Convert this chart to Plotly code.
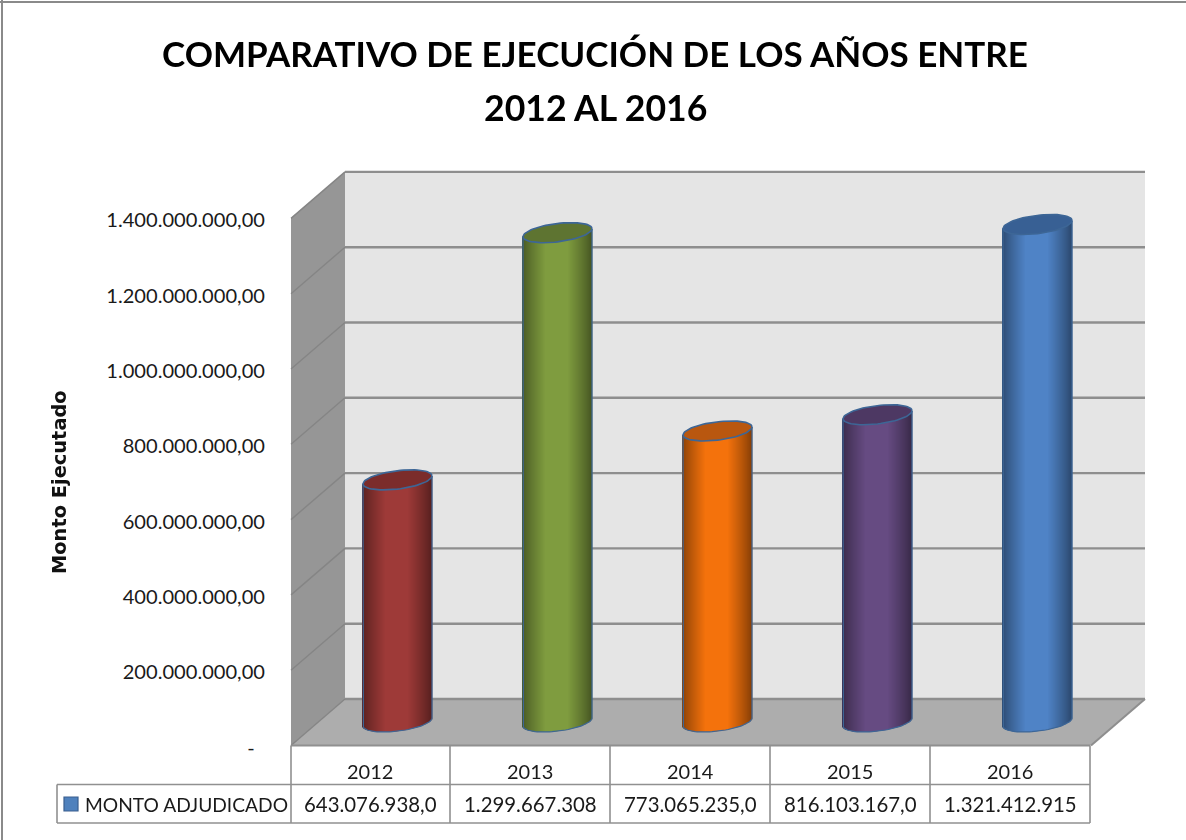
import math
import plotly.graph_objects as go

W, H = 1186, 840
FONT = "Lato"
TEXT = "#1a1a1a"

years = ["2012", "2013", "2014", "2015", "2016"]
values = [643076938.0, 1299667308, 773065235.0, 816103167.0, 1321412915]
table_labels = ["643.076.938,0", "1.299.667.308", "773.065.235,0", "816.103.167,0", "1.321.412.915"]
body_colors = ["#9e3a38", "#7f9c3f", "#f4720c", "#664b82", "#4f83c6"]
top_colors = ["#7b2c2b", "#5e7431", "#b9570f", "#4d3863", "#386094"]
tick_values = [0, 200e6, 400e6, 600e6, 800e6, 1000e6, 1200e6, 1400e6]
tick_labels = ["-\u00a0\u00a0", "200.000.000,00", "400.000.000,00", "600.000.000,00",
               "800.000.000,00", "1.000.000.000,00", "1.200.000.000,00", "1.400.000.000,00"]

# layout geometry in page pixels
PX_PER_UNIT = 75.3 / 200e6
CAT_W = 160
FIRST_CX = 397.5
BAR_ZERO = 722
FRONT_ZERO = 745.5
LABEL_ZERO = 747.5
BACK_ZERO = 699
FRONT_L, FRONT_R = 291, 1091
BACK_L, BACK_R = 345, 1145
A, B, TILT = 34.5, 9.2, 4.0

def X(px): return px / W
def Y(py): return 1 - py / H
def data_x(px): return (px - FIRST_CX) / CAT_W
def dy(pixels): return pixels / PX_PER_UNIT

def yrange(zero_px):
    return [(zero_px - H) / PX_PER_UNIT, zero_px / PX_PER_UNIT]

def poly(points, fill, line=None, width=0, layer="below"):
    path = "M " + " L ".join(f"{X(x):.5f},{Y(y):.5f}" for x, y in points) + " Z"
    return dict(type="path", xref="paper", yref="paper", path=path, fillcolor=fill,
                line=dict(color=line or fill, width=width), layer=layer)

def seg(x0, y0, x1, y1, color="#8d8d8d", width=2, layer="below"):
    return dict(type="line", xref="paper", yref="paper", x0=X(x0), y0=Y(y0), x1=X(x1), y1=Y(y1),
                line=dict(color=color, width=width), layer=layer)

def mix(color, f):
    r, g, b = int(color[1:3], 16), int(color[3:5], 16), int(color[5:7], 16)
    return f"rgb({int(r*f)},{int(g*f)},{int(b*f)})"

shapes = [
    poly([(FRONT_L, 218), (BACK_L, 172), (BACK_L, BACK_ZERO), (FRONT_L, FRONT_ZERO)], "#969696"),
    poly([(BACK_L, 172), (BACK_R, 172), (BACK_R, BACK_ZERO), (BACK_L, BACK_ZERO)], "#e5e5e5"),
    poly([(FRONT_L, FRONT_ZERO), (BACK_L, BACK_ZERO), (BACK_R, BACK_ZERO), (FRONT_R, FRONT_ZERO)], "#adadad"),
]
for v in tick_values:
    h = v * PX_PER_UNIT
    shapes.append(seg(BACK_L, BACK_ZERO - h, BACK_R, BACK_ZERO - h, "#8e8e8e", 2.4))
    shapes.append(seg(FRONT_L, FRONT_ZERO - h, BACK_L, BACK_ZERO - h, "#858585", 1.4))
shapes.append(seg(FRONT_R, FRONT_ZERO, BACK_R, BACK_ZERO, "#8e8e8e", 2))

# data table
row1, row2, row3 = FRONT_ZERO, 784.5, 823
for i in range(6):
    xp = FRONT_L + i * CAT_W - (1 if i == 5 else 0)
    shapes.append(seg(xp - (1 if 0 < i < 5 else 0), row1, xp - (1 if 0 < i < 5 else 0), row3, "#909090", 1.6))
shapes.append(seg(FRONT_L, row1, FRONT_R - 1, row1, "#909090", 2))
shapes.append(seg(57, row2, FRONT_R - 1, row2, "#909090", 1.6))
shapes.append(seg(57, row3, FRONT_R - 1, row3, "#909090", 1.6))
shapes.append(seg(57, row2, 57, row3, "#909090", 1.6))
shapes.append(poly([(64, 797), (78, 797), (78, 811), (64, 811)], "#4f81bd", "#3a5f8f", 1.2))
# outer frame
shapes.append(seg(2, 0, 2, H, "#8a8a8a", 2))
shapes.append(seg(0, 2, W, 2, "#8a8a8a", 2))

traces = []
outline = "#3d6696"
for i, (year, val) in enumerate(zip(years, values)):
    cx_px = FIRST_CX + i * CAT_W
    xs, tops, bases, cols = [], [], [], []
    n = int(2 * A)
    for s in range(n):
        px = cx_px - A + s + 0.5
        u = (px - cx_px) / A
        shade = 0.56 + 0.44 * min(1.0, (1 - abs(u)) / 0.68) ** 0.85
        chord = TILT * u
        low = -B * math.sqrt(max(0, 1 - u * u)) + chord
        xs.append(data_x(px))
        bases.append(dy(low))
        tops.append(val + dy(chord) - dy(low))
        cols.append(mix(body_colors[i], shade))
    traces.append(go.Bar(x=xs, y=tops, base=bases, width=1.6 / CAT_W, name=year,
                         marker=dict(color=cols, line=dict(width=0)),
                         hoverinfo="skip", showlegend=False))
    # outline of the side and bottom
    angles = [math.pi * k / 40 for k in range(41)]
    ox = [data_x(cx_px - A)] + [data_x(cx_px - A * math.cos(t)) for t in angles] + [data_x(cx_px + A)]
    oy = [val - dy(TILT)] + [dy(-B * math.sin(t) - TILT * math.cos(t)) for t in angles] + [val + dy(TILT)]
    traces.append(go.Scatter(x=ox, y=oy, mode="lines", line=dict(color=outline, width=1.2),
                             hoverinfo="skip", showlegend=False))
    # top ellipse
    angles = [2 * math.pi * k / 72 for k in range(73)]
    ex = [data_x(cx_px + A * math.cos(t)) for t in angles]
    ey = [val + dy(B * math.sin(t) + TILT * math.cos(t)) for t in angles]
    traces.append(go.Scatter(x=ex, y=ey, mode="lines", fill="toself", fillcolor=top_colors[i],
                             line=dict(color=outline, width=1.6), hoverinfo="skip", showlegend=False))

# carries the front value axis
traces.append(go.Scatter(x=list(range(5)), y=values, yaxis="y2", mode="markers", opacity=0,
                         hoverinfo="skip", showlegend=False))

annotations = []
def label(text, px, py, size=19.8, bold=False, anchor="center", angle=0, family=FONT, color=TEXT):
    annotations.append(dict(text=f"<b>{text}</b>" if bold else text, x=X(px), y=Y(py), xref="paper", yref="paper",
                            showarrow=False, xanchor=anchor, yanchor="middle", textangle=angle,
                            font=dict(family=family, size=size, color=color)))

for i, (year, txt) in enumerate(zip(years, table_labels)):
    cell = FRONT_L + (i + 0.5) * CAT_W - 1
    label(year, cell, 771, size=20)
    label(txt, cell, 804, size=20.4)
label("MONTO ADJUDICADO", 83, 804, size=19.2, anchor="left")
label("Monto Ejecutado", 60, 482, size=19.4, bold=True, angle=-90, family="DejaVu Sans", color="#111111")
label("2012 AL 2016", 595, 108, size=35.6, bold=True, color="#000000")

fig = go.Figure(traces)
fig.update_layout(
    width=W, height=H, autosize=False,
    margin=dict(l=0, r=0, t=0, b=0, pad=0),
    paper_bgcolor="white", plot_bgcolor="rgba(0,0,0,0)",
    barmode="overlay", showlegend=False,
    title=dict(text="<b>COMPARATIVO DE EJECUCIÓN DE LOS AÑOS ENTRE</b>",
               x=595 / W, xanchor="center", y=1 - 55 / H, yanchor="middle",
               font=dict(family=FONT, size=35, color="#000000")),
    xaxis=dict(range=[data_x(0), data_x(W)], visible=False, domain=[0, 1], fixedrange=True),
    yaxis=dict(range=yrange(BAR_ZERO), visible=False, domain=[0, 1], fixedrange=True),
    yaxis2=dict(range=yrange(LABEL_ZERO), overlaying="y", side="left", anchor="free", position=FRONT_L / W,
                tickmode="array", tickvals=tick_values, ticktext=tick_labels,
                ticks="outside", ticklen=22, tickcolor="rgba(0,0,0,0)", showgrid=False, zeroline=False,
                showline=False, fixedrange=True, tickfont=dict(family=FONT, size=20.1, color=TEXT)),
    shapes=shapes, annotations=annotations,
)
fig.write_html("out.html", config=dict(displayModeBar=False),
               post_script="document.body.style.margin='0';document.body.style.overflow='hidden';")
